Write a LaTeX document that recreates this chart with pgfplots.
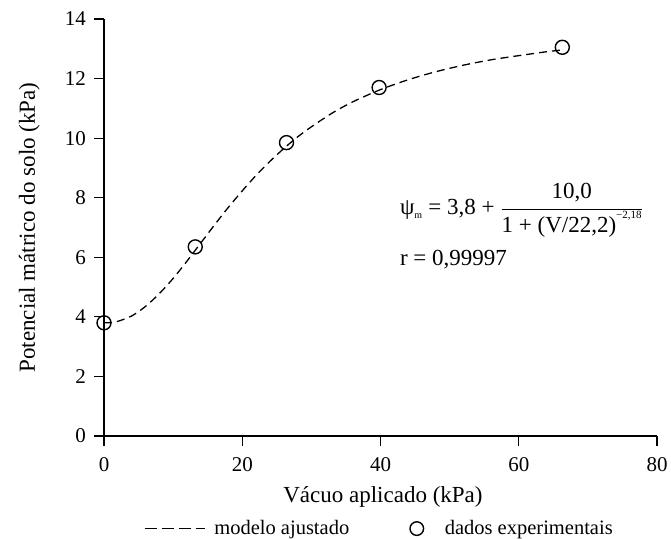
\documentclass[border=0pt]{standalone}
\usepackage{pgfplots}
\pgfplotsset{compat=1.18}
\usepackage{fontspec}
\setmainfont{Liberation Serif}
\begin{document}
\begin{tikzpicture}
\begin{axis}[
  scale only axis, width=553pt, height=417pt,
  xmin=0, xmax=80, ymin=0, ymax=14,
  axis lines*=left,
  axis line style={line width=1.1pt},
  tick style={line width=1.1pt, black},
  tick align=outside, major tick length=10pt,
  xtick={0,20,40,60,80}, ytick={0,2,4,6,8,10,12,14},
  /pgf/number format/assume math mode=true,
  ticklabel style={font=\fontsize{21}{24}\selectfont, inner sep=0pt},
  yticklabel style={anchor=east, xshift=-8pt},
  xticklabel style={anchor=north, yshift=-11pt},
  xlabel={Vácuo aplicado (kPa)},
  ylabel={Potencial mátrico do solo (kPa)},
  label style={font=\fontsize{23}{27}\selectfont},
  xlabel style={at={(axis description cs:0.5045,-0.1583)}, anchor=base},
  ylabel style={at={(axis description cs:-0.1248,0.5)}, anchor=base},
  legend columns=2,
  legend style={draw=none, at={(axis description cs:0.498,-0.222)}, anchor=center,
    inner sep=0pt, font=\fontsize{20.5}{24}\selectfont,
    /tikz/every odd column/.append style={column sep=7pt},
    /tikz/every even column/.append style={column sep=58pt}},
  clip=false,
]
\addplot[black, line width=1.3pt, dash pattern=on 8pt off 5pt, smooth,
  legend image code/.code={\draw[black, line width=1.3pt, dash pattern=on 12pt off 5pt] (0pt,0pt) -- (60pt,0pt);}]
coordinates {
(0,3.80) (1,3.81) (2,3.85) (4,4.03) (6,4.35) (8,4.78) (10,5.29) (12,5.87)
(14,6.48) (16,7.09) (18,7.68) (20,8.23) (22,8.75) (24,9.22) (26,9.65)
(28,10.04) (30,10.38) (33,10.84) (36,11.22) (40,11.63) (44,11.96)
(48,12.23) (52,12.45) (56,12.63) (60,12.77) (64,12.90) (66.3,12.96)
};
\addlegendentry{modelo ajustado}
\addplot[only marks, mark=o, mark size=7pt, black, line width=1.4pt,
  legend image code/.code={\draw[black, line width=1.4pt] (7pt,0pt) circle (6.8pt); \node[inner sep=0pt, minimum size=0pt] at (26pt,0pt) {};}]
coordinates {(0,3.8) (13.2,6.35) (26.4,9.85) (39.8,11.7) (66.3,13.05)};
\addlegendentry{dados experimentais}
\node[anchor=base west, inner sep=0pt, font=\fontsize{23}{27}\selectfont] at (axis cs:42.8,7.42)
  {ψ\textsubscript{\fontsize{10}{11}\selectfont m} = 3,8 + $\displaystyle\frac{\mbox{10,0}}{\mbox{1 + (V/22,2)\raisebox{0.6em}{\fontsize{11}{12}\selectfont −2,18}}}$};
\node[anchor=base west, inner sep=0pt, font=\fontsize{23}{27}\selectfont] at (axis cs:42.8,5.74) {r = 0,99997};
\end{axis}
\pgfresetboundingbox
\path ([xshift=-104pt,yshift=-102pt]current axis.south west) rectangle ([xshift=14pt,yshift=19pt]current axis.north east);
\end{tikzpicture}
\end{document}
